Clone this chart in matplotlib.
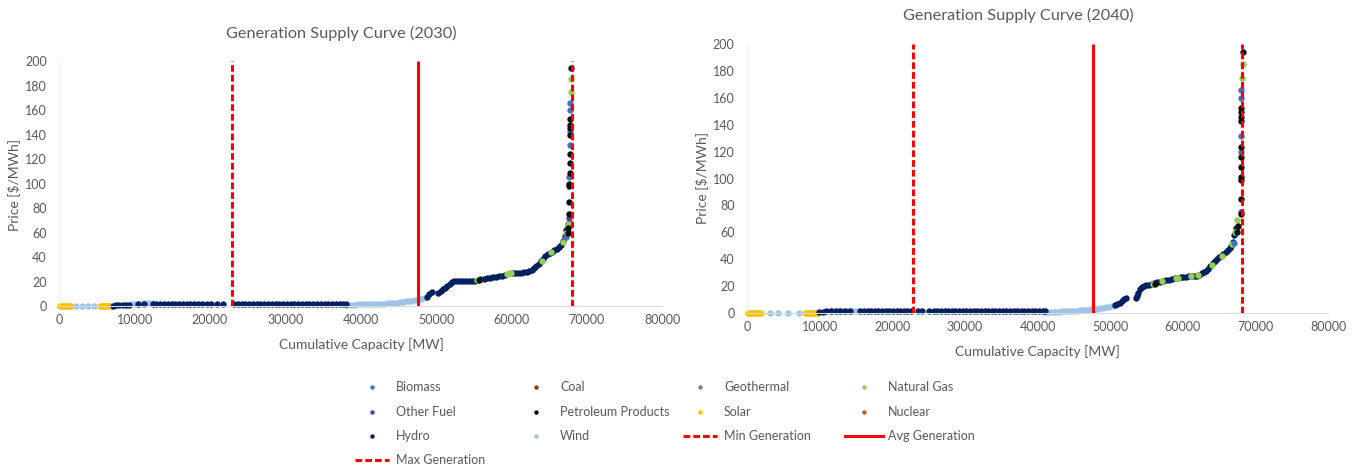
import matplotlib.pyplot as plt
from matplotlib.lines import Line2D

plt.rcParams['font.family'] = ['Lato', 'DejaVu Sans']

TEXT = '#595959'
AXIS = '#D9D9D9'
RED = '#FF0000'

# ---------------- fuels ----------------
FUELS = ['Biomass', 'Coal', 'Geothermal', 'Natural Gas', 'Other Fuel',
         'Petroleum Products', 'Solar', 'Nuclear', 'Hydro', 'Wind']
COLORS = ['#4472C4', '#843C0C', '#7F7F7F', '#92D050', '#7030A0',
          '#0D0D0D', '#FFC000', '#C55A11', '#002060', '#9DC3E6']

# generation levels [MW]
MIN_GEN = {2030: 22950, 2040: 22900}
AVG_GEN = {2030: 47600, 2040: 47600}
MAX_GEN = {2030: 68100, 2040: 68100}

X_TICKS = [0, 10000, 20000, 30000, 40000, 50000, 60000, 70000, 80000]
Y_TICKS = [0, 20, 40, 60, 80, 100, 120, 140, 160, 180, 200]

# ---------------- 2030 ----------------
SOLAR_2030_MW = [100, 300, 500, 700, 900, 1100, 1300, 1500,
                 5400, 5600, 5800, 6000, 6200, 6400, 6600, 6800, 7000]
SOLAR_2030_P = [0, 0, 0, 0, 0, 0, 0, 0,
                0, 0, 0, 0, 0, 0, 0, 0, 0]

WIND_2030_MW = [2200, 3000, 3800, 4600,
                9500, 9900, 10300, 10700, 11100, 11500, 11900, 12300,
                38000, 38400, 38800, 39200, 39600, 40000, 40400, 40800, 41200, 41600,
                42000, 42400, 42800, 43200, 43600, 44000, 44400, 44800, 45200, 45600,
                46000, 46400, 46800, 47200, 47600, 48000, 48400]
WIND_2030_P = [0, 0, 0, 0,
               1.8, 1.9, 2.0, 2.0, 2.1, 2.1, 2.2, 2.2,
               1.2, 1.2, 1.2, 1.2, 1.3, 1.3, 1.3, 1.4, 1.4, 1.5,
               1.6, 1.7, 1.8, 2.0, 2.2, 2.4, 2.6, 2.8, 3.1, 3.4,
               3.7, 4.0, 4.3, 4.7, 5.1, 5.6, 6.3]

HYDRO_2030_MW = [7100, 7500, 7900, 8400, 8900, 9300, 10400, 11200,
                 12400, 12900, 13400, 13900, 14400, 14900, 15400, 15900, 16400, 16900,
                 17400, 17900, 18400, 18900,
                 19600, 20200, 20900, 21700,
                 23200, 23700, 24200, 24700, 25200, 25700, 26200, 26700, 27200, 27700,
                 28200, 28700, 29200, 29700, 30200, 30700, 31200, 31700, 32200, 32700,
                 33200, 33700, 34200, 34700, 35200, 35700, 36200, 36700, 37200, 37700,
                 38000,
                 48800, 49100, 49400,
                 50300, 50600, 50900, 51200, 51500, 51800, 52100, 52400,
                 52800, 53200, 53600, 54000, 54400, 54800, 55200,
                 55900, 56300, 56700, 57100, 57500, 57900, 58300, 58700, 59100,
                 60100, 60500, 60900, 61300, 61700, 62100, 62400, 62700, 63000, 63300,
                 63600, 63900, 64200, 64500, 64800, 65100, 65400, 65700, 66000, 66300,
                 66600, 66900, 67100, 67300, 67500]
HYDRO_2030_P = [0.4, 0.6, 0.7, 0.8, 1.0, 1.2, 2.0, 2.0,
                1.5, 1.5, 1.5, 1.5, 1.5, 1.5, 1.5, 1.5, 1.5, 1.5,
                1.5, 1.5, 1.5, 1.5,
                1.5, 1.5, 1.5, 1.5,
                1.5, 1.5, 1.5, 1.5, 1.5, 1.5, 1.5, 1.5, 1.5, 1.5,
                1.5, 1.5, 1.5, 1.5, 1.5, 1.5, 1.5, 1.5, 1.5, 1.5,
                1.5, 1.5, 1.5, 1.5, 1.5, 1.5, 1.5, 1.5, 1.5, 1.5,
                1.5,
                7.6, 9.6, 11.5,
                10.5, 12.0, 13.5, 15.0, 16.5, 18.0, 19.5, 20.5,
                20.7, 20.7, 20.7, 20.7, 20.7, 20.7, 20.7,
                21.8, 22.2, 22.6, 23.0, 23.4, 23.8, 24.2, 24.6, 25.0,
                27.0, 27.1, 27.2, 27.3, 27.5, 28.0, 28.8, 29.6, 30.8, 32.5,
                34.5, 36.5, 38.5, 40.5, 42.5, 43.5, 44.5, 45.5, 46.8, 48.0,
                50.0, 53.0, 57.0, 62.0, 67.0]

GAS_2030_MW = [55400, 55700, 59400, 59700, 60000, 64000, 65200, 66800,
               67200, 67400, 67600, 67900, 67950]
GAS_2030_P = [21.0, 21.3, 26.3, 26.6, 26.8, 37.0, 44.0, 52.0,
              60.0, 65.0, 68.8, 174.7, 185.0]

PETROL_2030_MW = [55650, 67450, 67500, 67700, 67650, 67700, 67700, 67750,
                  67750, 67750, 67800, 67800, 67800, 67800, 67950]
PETROL_2030_P = [21.2, 59.3, 63.4, 75.0, 85.2, 98.2, 100.0, 108.3,
                 117.0, 123.8, 139.6, 145.0, 147.8, 153.0, 194.0]

BIOMASS_2030_MW = [67300, 67700, 67750, 67800, 67750, 67750]
BIOMASS_2030_P = [56.6, 105.6, 131.4, 143.0, 160.0, 165.4]

OTHER_2030_MW = [67700]
OTHER_2030_P = [71.6]

# ---------------- 2040 ----------------
SOLAR_2040_MW = [100, 300, 500, 700, 900, 1100, 1300, 1500, 1700, 1900,
                 8000, 8200, 8400, 8600, 8800, 9000, 9200, 9400, 9600, 9800]
SOLAR_2040_P = [0, 0, 0, 0, 0, 0, 0, 0, 0, 0,
                0, 0, 0, 0, 0, 0, 0, 0, 0, 0]

WIND_2040_MW = [3100, 4300, 5700, 7100,
                11400, 11800, 12200, 12600, 13000, 13400, 13800, 14200, 14600, 15000, 15400,
                41000, 41400, 41800, 42200, 42600, 43000, 43400, 43800, 44200, 44600,
                45000, 45400, 45800, 46200, 46600, 47000, 47400, 47800, 48200, 48600,
                49000, 49400, 49800, 50200, 50600, 51000]
WIND_2040_P = [0, 0, 0, 0,
               1.5, 1.5, 1.6, 1.6, 1.6, 1.7, 1.7, 1.7, 1.8, 1.8, 1.8,
               1.0, 1.0, 1.0, 1.0, 1.1, 1.1, 1.2, 1.2, 1.3, 1.4,
               1.5, 1.7, 1.9, 2.1, 2.3, 2.5, 2.7, 3.0, 3.3, 3.6,
               4.0, 4.4, 4.8, 5.2, 5.7, 6.4]

HYDRO_2040_MW = [9900, 10400, 10900, 11600, 12200, 12800, 13500, 14200,
                 15600, 16100, 16600, 17100, 17600, 18100, 18600, 19100, 19600, 20100,
                 20600, 21100, 21600, 22000,
                 22600, 23500, 24100, 25000, 25700,
                 26200, 26700, 27200, 27700, 28200, 28700, 29200, 29700, 30200, 30700,
                 31200, 31700, 32200, 32700, 33200, 33700, 34200, 34700, 35200, 35700,
                 36200, 36700, 37200, 37700, 38200, 38700, 39200, 39700, 40200, 40700,
                 41000,
                 50700, 51000, 51300, 51600, 51900, 52200,
                 53500, 53700, 53900, 54100, 54400, 54700, 55000, 55300,
                 55700, 56100, 56500, 56900, 57300, 57700, 58100, 58500, 58900, 59300,
                 59700, 60100, 60500, 60900, 61300, 61700, 62000, 62300, 62600, 62900,
                 63200, 63500, 63800, 64100, 64400, 64700, 65000, 65300, 65600, 65900,
                 66200, 66500, 66700, 66900, 67100, 67300]
HYDRO_2040_P = [0.8, 1.0, 1.2, 1.8, 1.4, 1.8, 1.5, 1.6,
                1.3, 1.3, 1.3, 1.3, 1.3, 1.3, 1.3, 1.3, 1.3, 1.3,
                1.3, 1.3, 1.3, 1.3,
                1.3, 1.3, 1.3, 1.3, 1.3,
                1.3, 1.3, 1.3, 1.3, 1.3, 1.3, 1.3, 1.3, 1.3, 1.3,
                1.3, 1.3, 1.3, 1.3, 1.3, 1.3, 1.3, 1.3, 1.3, 1.3,
                1.3, 1.3, 1.3, 1.3, 1.3, 1.3, 1.3, 1.3, 1.3, 1.3,
                1.3,
                5.8, 6.8, 7.8, 9.0, 10.2, 11.4,
                10.9, 12.5, 15.0, 17.5, 19.0, 20.0, 20.6, 21.0,
                21.6, 22.2, 22.8, 23.3, 23.8, 24.3, 24.8, 25.3, 25.8, 26.2,
                26.6, 26.9, 27.1, 27.2, 27.3, 27.4, 27.8, 28.6, 29.6, 30.6,
                31.6, 33.0, 35.0, 37.0, 38.8, 40.2, 41.4, 42.5, 43.8, 45.2,
                46.5, 48.0, 49.5, 53.0, 58.0, 63.0]

GAS_2040_MW = [55900, 57100, 59000, 59400, 61100, 62100, 64000, 65400,
               66800, 67200, 67500, 68100, 68250]
GAS_2040_P = [21.7, 23.6, 25.9, 26.2, 27.3, 28.0, 36.0, 42.5,
              51.0, 60.0, 69.2, 174.5, 184.9]

PETROL_2040_MW = [56200, 67500, 67550, 68000, 67950, 68000, 68000, 68000,
                  68000, 68000, 68050, 68050, 68050, 68050, 68350]
PETROL_2040_P = [21.9, 60.5, 64.7, 73.6, 84.5, 98.9, 101.4, 108.8,
                 116.3, 123.7, 143.0, 146.0, 149.7, 152.1, 194.3]

BIOMASS_2040_MW = [67000, 68000, 68000, 68050, 68050]
BIOMASS_2040_P = [51.8, 120.0, 131.6, 159.6, 165.8]

OTHER_2040_MW = [68000]
OTHER_2040_P = [75.4]

SERIES = {
    2030: {'Solar': (SOLAR_2030_MW, SOLAR_2030_P),
           'Wind': (WIND_2030_MW, WIND_2030_P),
           'Hydro': (HYDRO_2030_MW, HYDRO_2030_P),
           'Natural Gas': (GAS_2030_MW, GAS_2030_P),
           'Petroleum Products': (PETROL_2030_MW, PETROL_2030_P),
           'Biomass': (BIOMASS_2030_MW, BIOMASS_2030_P),
           'Other Fuel': (OTHER_2030_MW, OTHER_2030_P)},
    2040: {'Solar': (SOLAR_2040_MW, SOLAR_2040_P),
           'Wind': (WIND_2040_MW, WIND_2040_P),
           'Hydro': (HYDRO_2040_MW, HYDRO_2040_P),
           'Natural Gas': (GAS_2040_MW, GAS_2040_P),
           'Petroleum Products': (PETROL_2040_MW, PETROL_2040_P),
           'Biomass': (BIOMASS_2040_MW, BIOMASS_2040_P),
           'Other Fuel': (OTHER_2040_MW, OTHER_2040_P)},
}

# drawing order: flat fuels underneath, peakers on top
DRAW_ORDER = ['Solar', 'Wind', 'Hydro', 'Natural Gas', 'Biomass',
              'Other Fuel', 'Petroleum Products']

DASH = (0, (2.2, 1.0))
LW = 2.2


# ================= ONE PANEL =================
def draw_panel(ax, year):
    for name in DRAW_ORDER:
        if name not in SERIES[year]:
            continue
        mw, price = SERIES[year][name]
        ax.scatter(mw, price, s=21, color=COLORS[FUELS.index(name)],
                   linewidths=0, zorder=2, clip_on=False)

    ax.vlines(MIN_GEN[year], 0, 200, colors=RED, lw=LW, linestyles=[DASH], zorder=3)
    ax.vlines(AVG_GEN[year], 0, 200, colors=RED, lw=LW, zorder=3)
    ax.vlines(MAX_GEN[year], 0, 200, colors=RED, lw=LW, linestyles=[DASH], zorder=3)

    ax.set_xlim(0, 80000)
    ax.set_ylim(0, 200)
    ax.set_xticks(X_TICKS)
    ax.set_yticks(Y_TICKS)
    ax.tick_params(length=0, labelsize=9, colors=TEXT)
    ax.tick_params(axis='y', pad=9)
    ax.tick_params(axis='x', pad=6)

    for side in ['top', 'right']:
        ax.spines[side].set_visible(False)
    ax.spines['bottom'].set_color(AXIS)
    ax.spines['left'].set_color('#EDEDED')


fig = plt.figure(figsize=(13.59, 4.70), dpi=100)

ax1 = fig.add_axes([0.0436, 0.3489, 0.4436, 0.5213])
ax2 = fig.add_axes([0.5497, 0.3340, 0.4275, 0.5723])
draw_panel(ax1, 2030)
draw_panel(ax2, 2040)

W, H = 1359, 470


def ftext(x, y, s, **kw):
    fig.text(x / W, 1 - y / H, s, color=TEXT, ha='center', va='center', **kw)


ftext(341, 33, 'Generation Supply Curve (2030)', fontsize=11.7)
ftext(1018, 15, 'Generation Supply Curve (2040)', fontsize=11.7)
ftext(361, 345, 'Cumulative Capacity [MW]', fontsize=10)
ftext(1037, 352, 'Cumulative Capacity [MW]', fontsize=10)
ftext(14, 185, 'Price [$/MWh]', fontsize=10, rotation=90)
ftext(702, 178, 'Price [$/MWh]', fontsize=10, rotation=90)

# ================= LEGEND =================
COL_X = [372, 536, 700, 864]
ROW_Y = [387, 411.5, 436, 460]

entries = [(f, 'dot', c) for f, c in zip(FUELS, COLORS)]
entries += [('Min Generation', 'dash', RED), ('Avg Generation', 'solid', RED),
            ('Max Generation', 'dash', RED)]

for i, (label, kind, color) in enumerate(entries):
    cx = COL_X[i % 4]
    cy = 1 - ROW_Y[i // 4] / H
    if kind == 'dot':
        fig.add_artist(Line2D([cx / W], [cy], marker='o', markersize=3.2,
                              markeredgewidth=0, color=color, transform=fig.transFigure))
    else:
        half = 19 if kind == 'solid' else 17
        ls = DASH if kind == 'dash' else '-'
        fig.add_artist(Line2D([(cx - half) / W, (cx + half) / W], [cy, cy],
                              color=color, lw=LW, linestyle=ls, transform=fig.transFigure))
    fig.text((cx + 24) / W, cy, label, color=TEXT, fontsize=9, ha='left', va='center')

fig.savefig('out.png', dpi=100, facecolor='white')
